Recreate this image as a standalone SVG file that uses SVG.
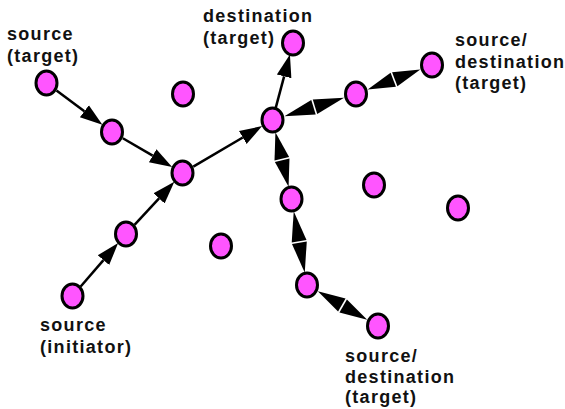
<svg xmlns="http://www.w3.org/2000/svg" width="565" height="409" viewBox="0 0 565 409">
<style>
.n{fill:#ff55ff;stroke:#000;stroke-width:3}
.e{stroke:#000;stroke-width:2.5;fill:none}
.h{fill:#000;stroke:none}
.t{font-family:"Liberation Sans",Arial,sans-serif;font-weight:bold;font-size:18px;letter-spacing:1.3px;fill:#111}
</style>
<defs>
<marker id="ah" markerUnits="userSpaceOnUse" markerWidth="24" markerHeight="18" viewBox="0 -9 24 18" refX="0" refY="0" orient="auto">
<path d="M0,-7.5 L22.5,0 L0,7.5 z" fill="#000"/>
</marker>
</defs>
<rect width="565" height="409" fill="#fff"/>
<g id="connectors">
<line class="e" x1="56.5" y1="90.5" x2="84.37" y2="111.33" marker-end="url(#ah)"/>
<line class="e" x1="122.81" y1="138.28" x2="152.67" y2="155.66" marker-end="url(#ah)"/>
<line class="e" x1="80.67" y1="286.54" x2="103.46" y2="260.12" marker-end="url(#ah)"/>
<line class="e" x1="134.49" y1="224.83" x2="159.06" y2="198.31" marker-end="url(#ah)"/>
<line class="e" x1="193.27" y1="166.66" x2="242.77" y2="137.5" marker-end="url(#ah)"/>
<line class="e" x1="275.72" y1="107.92" x2="284.12" y2="76.34" marker-end="url(#ah)"/>
<polygon class="h" points="284.44,116.28 315.72,114.40 311.26,100.08"/>
<polygon class="h" points="344.06,97.72 317.24,113.92 312.78,99.60"/>
<polygon class="h" points="367.68,89.54 395.92,86.80 390.58,72.78"/>
<polygon class="h" points="420.32,69.46 397.42,86.22 392.08,72.20"/>
<polygon class="h" points="275.42,132.15 274.52,160.47 289.10,156.97"/>
<polygon class="h" points="288.58,186.85 274.90,162.03 289.48,158.53"/>
<polygon class="h" points="293.72,211.3 291.73,242.54 306.49,239.88"/>
<polygon class="h" points="304.78,272.7 292.01,244.12 306.77,241.46"/>
<polygon class="h" points="317.83,291.25 338.06,311.6 345.56,298.6"/>
<polygon class="h" points="367.17,319.75 339.44,312.4 346.94,299.4"/>
</g>
<g id="nA"><ellipse class="n" cx="46.5" cy="83" rx="10.5" ry="12"/><text class="t" x="7" y="40">source</text><text class="t" x="7" y="62">(target)</text></g>
<g id="nB"><ellipse class="n" cx="112" cy="132" rx="10.5" ry="12"/></g>
<g id="nC"><ellipse class="n" cx="182.5" cy="173" rx="10.5" ry="12"/></g>
<g id="nD"><ellipse class="n" cx="126" cy="234" rx="10.5" ry="12"/></g>
<g id="nE"><ellipse class="n" cx="72.5" cy="296" rx="10.5" ry="12"/><text class="t" x="40" y="331">source</text><text class="t" x="40" y="353">(initiator)</text></g>
<g id="nF"><ellipse class="n" cx="183" cy="94" rx="10.5" ry="12"/></g>
<g id="nG"><ellipse class="n" cx="221" cy="246" rx="10.5" ry="12"/></g>
<g id="nH"><ellipse class="n" cx="272.5" cy="120" rx="10.5" ry="12"/></g>
<g id="nI"><ellipse class="n" cx="293" cy="43" rx="10.5" ry="12"/><text class="t" x="203" y="22">destination</text><text class="t" x="203" y="44">(target)</text></g>
<g id="nJ"><ellipse class="n" cx="356" cy="94" rx="10.5" ry="12"/></g>
<g id="nK"><ellipse class="n" cx="432" cy="65" rx="10.5" ry="12"/><text class="t" x="455" y="46">source/</text><text class="t" x="455" y="68">destination</text><text class="t" x="455" y="89">(target)</text></g>
<g id="nL"><ellipse class="n" cx="291.5" cy="199" rx="10.5" ry="12"/></g>
<g id="nM"><ellipse class="n" cx="307" cy="285" rx="10.5" ry="12"/></g>
<g id="nN"><ellipse class="n" cx="378" cy="326" rx="10.5" ry="12"/><text class="t" x="345" y="362">source/</text><text class="t" x="345" y="383">destination</text><text class="t" x="345" y="403">(target)</text></g>
<g id="nO"><ellipse class="n" cx="374" cy="185" rx="10.5" ry="12"/></g>
<g id="nP"><ellipse class="n" cx="458" cy="208" rx="10.5" ry="12"/></g>
</svg>
